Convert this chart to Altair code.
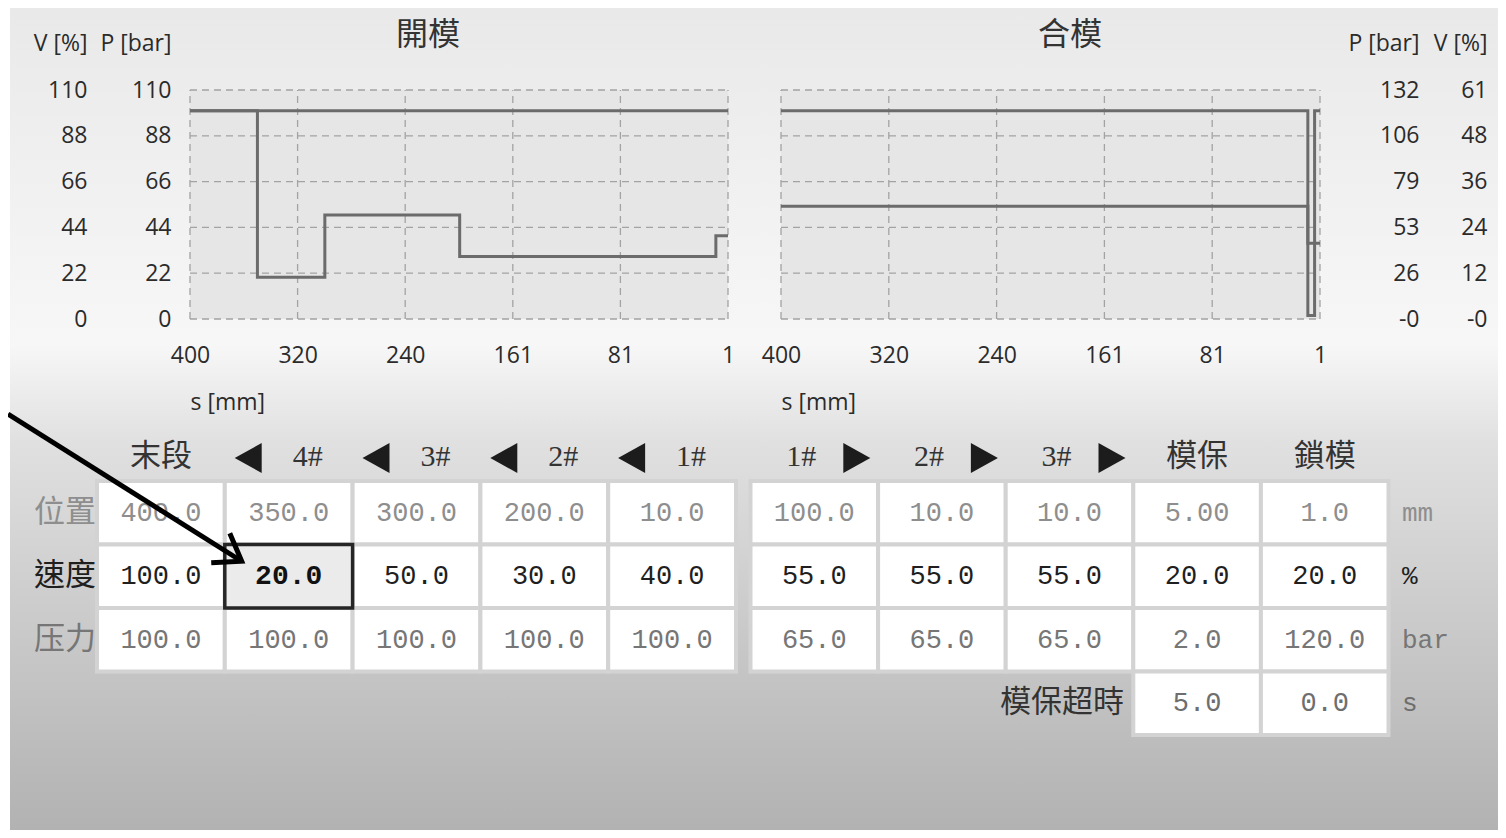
import altair as alt
import pandas as pd

W, H = 1490, 822

# ---------------- data ----------------
row_names = ["位置", "速度", "压力", "模保超時"]
units = ["mm", "%", "bar", "s"]

open_stages = ["末段", "4#", "3#", "2#", "1#"]
open_pos = [400.0, 350.0, 300.0, 200.0, 10.0]
open_speed = [100.0, 20.0, 50.0, 30.0, 40.0]
open_press = [100.0, 100.0, 100.0, 100.0, 100.0]

close_stages = ["1#", "2#", "3#", "模保", "鎖模"]
close_pos = [100.0, 10.0, 10.0, 5.00, 1.0]
close_speed = [55.0, 55.0, 55.0, 20.0, 20.0]
close_press = [65.0, 65.0, 65.0, 2.0, 120.0]
protect_stages = ["模保", "鎖模"]
protect_time = [5.0, 0.0]

stroke_start, stroke_end = 400.0, 1.0
s_ticks = [400.0, 320.2, 240.4, 160.6, 80.8, 1.0]
open_ticks = [0, 22, 44, 66, 88, 110]
close_p_ticks = [0, 26.4, 52.8, 79.2, 105.6, 132]
close_v_ticks = [0, 12.1, 24.2, 36.3, 48.4, 60.5]
selected_stage, selected_row = "4#", "速度"

# ---------------- styles / layout ----------------
AX_FONT = "Open Sans"
CJK = "Noto Sans CJK TC"
MONO = "Liberation Mono"
LINE_C = "#6b6b6b"
GRID_C = "#a3a3a3"
PLOT_Y = [311, 82]
OPEN_X = [182, 720]
CLOSE_X = [773, 1312]
ROW_COLORS = ["#8e8e8e", "#1f1f1f", "#767676", "#6e6e6e"]
TRI_LEFT = "M 1 -1 L -0.8 0 L 1 1 Z"
TRI_RIGHT = "M -1 -1 L 0.8 0 L -1 1 Z"
CHEVRON = "M -1 -0.7 L 0 0 L -1 0.7"


def y_axis(title, ticks, right_edge, zero_minus):
    expr = "format(datum.value, '.0f')"
    if zero_minus:
        expr = "datum.value == 0 ? '-0' : " + expr
    return alt.Axis(orient="left", offset=-(right_edge + 4), values=ticks,
                    labelExpr=expr, labelPadding=4, tickSize=0, ticks=False,
                    domain=False, grid=False, labelAlign="right",
                    labelBaseline="middle", title=title, titleAngle=0,
                    titleAlign="right", titleX=-4, titleY=35,
                    titleBaseline="middle", zindex=2)


def x_axis(xr):
    return alt.Axis(orient="bottom", offset=PLOT_Y[0] - H, values=s_ticks,
                    format=".0f", labelPadding=36, labelBaseline="middle",
                    tickSize=0, ticks=False, domain=False, grid=False,
                    labelFlush=False, labelOverlap=False,
                    title="s [mm]", titleX=xr[0], titleY=83, titleAlign="left",
                    titleBaseline="middle", titleAngle=0, zindex=2)


def panel(prof, xr, p_dom, v_dom, p_ticks, v_ticks, p_edge, v_edge, zero_minus):
    xs = alt.Scale(domain=[stroke_start, stroke_end], range=xr, nice=False, zero=False)

    def ys(dom):
        return alt.Scale(domain=dom, range=PLOT_Y, nice=False, zero=False)

    xa = x_axis(xr)
    one = pd.DataFrame({"k": [0]})
    bg = alt.Chart(one).mark_rect(fill="#e6e6e6").encode(
        x=alt.X(datum=stroke_start, scale=xs, axis=xa), x2=alt.datum(stroke_end),
        y=alt.Y(datum=p_dom[0], scale=ys(p_dom), axis=None), y2=alt.datum(p_dom[1]))
    vgrid = alt.Chart(pd.DataFrame({"s": s_ticks})).mark_rule(
        color=GRID_C, strokeDash=[7, 5], strokeWidth=1.3).encode(
        x=alt.X("s:Q", scale=xs, axis=xa),
        y=alt.Y(datum=p_dom[0], scale=ys(p_dom), axis=None), y2=alt.datum(p_dom[1]))
    hgrid = alt.Chart(pd.DataFrame({"t": p_ticks})).mark_rule(
        color=GRID_C, strokeDash=[7, 5], strokeWidth=1.3).encode(
        y=alt.Y("t:Q", scale=ys(p_dom), axis=None),
        x=alt.X(datum=stroke_start, scale=xs, axis=xa), x2=alt.datum(stroke_end))
    pline = alt.Chart(prof).mark_line(interpolate="step-after", color=LINE_C,
                                      strokeWidth=3).encode(
        x=alt.X("s:Q", scale=xs, axis=xa),
        y=alt.Y("p:Q", scale=ys(p_dom), axis=y_axis("P [bar]", p_ticks, p_edge, zero_minus)),
        order=alt.Order("idx:Q"))
    vline = alt.Chart(prof).mark_line(interpolate="step-after", color=LINE_C,
                                      strokeWidth=3).encode(
        x=alt.X("s:Q", scale=xs, axis=xa),
        y=alt.Y("v:Q", scale=ys(v_dom), axis=y_axis("V [%]", v_ticks, v_edge, zero_minus)),
        order=alt.Order("idx:Q"))
    return alt.layer(bg, vgrid, hgrid, pline, vline).resolve_scale(
        y="independent").resolve_axis(y="independent")


open_prof = pd.DataFrame({
    "idx": list(range(len(open_pos) + 1)),
    "s": open_pos + [stroke_end],
    "v": open_speed + [open_speed[-1]],
    "p": open_press + [open_press[-1]],
})
close_prof = pd.DataFrame({
    "idx": list(range(len(close_pos) + 1)),
    "s": [stroke_start] + close_pos,
    "v": close_speed + [close_speed[-1]],
    "p": close_press + [close_press[-1]],
})

open_panel = panel(open_prof, OPEN_X, [0, 110], [0, 110], open_ticks, open_ticks,
                   163, 79, False)
close_panel = panel(close_prof, CLOSE_X, [0, 132], [0, 60.5], close_p_ticks,
                    close_v_ticks, 1411, 1479, True)


# ---------------- tables ----------------
def fmt_pos(stage, v):
    return "{:.2f}".format(v) if stage == "模保" else "{:.1f}".format(v)


def table_df(stages, pos, speed, press):
    recs = []
    for i, st in enumerate(stages):
        recs.append({"col": st, "row": row_names[0], "txt": fmt_pos(st, pos[i])})
        recs.append({"col": st, "row": row_names[1], "txt": "{:.1f}".format(speed[i])})
        recs.append({"col": st, "row": row_names[2], "txt": "{:.1f}".format(press[i])})
    return recs


row_color = alt.Scale(domain=row_names, range=ROW_COLORS)


def table(stages, recs, xr, direction, name_dx, tri_dx):
    xb = alt.Scale(type="band", domain=stages, range=xr, paddingInner=0, paddingOuter=0)
    yb = alt.Scale(type="band", domain=row_names, range=[473, 727], paddingInner=0,
                   paddingOuter=0)
    df = pd.DataFrame(recs)
    X = alt.X("col:N", scale=xb, axis=None)
    Y = alt.Y("row:N", scale=yb, axis=None)
    sel = f"datum.col == '{selected_stage}' && datum.row == '{selected_row}'"
    cells = alt.Chart(df).mark_rect(fill="white", stroke="#d3d3d3", strokeWidth=4).encode(x=X, y=Y)
    hl = alt.Chart(df).transform_filter(sel).mark_rect(
        fill="#ebebeb", stroke="#262626", strokeWidth=3.5).encode(x=X, y=Y)
    txt = alt.Chart(df).transform_filter("!(" + sel + ")").mark_text(
        font=MONO, fontSize=27).encode(
        x=X, y=Y, text="txt:N", color=alt.Color("row:N", scale=row_color, legend=None))
    txt_sel = alt.Chart(df).transform_filter(sel).mark_text(
        font=MONO, fontSize=28, fontWeight="bold", color="#111").encode(x=X, y=Y, text="txt:N")
    hdr = pd.DataFrame({"col": stages,
                        "kind": ["num" if "#" in s else "cjk" for s in stages]})
    h_cjk = alt.Chart(hdr).transform_filter("datum.kind == 'cjk'").mark_text(
        font=CJK, fontSize=31, color="#333").encode(x=X, y=alt.value(449), text="col:N")
    h_num = alt.Chart(hdr).transform_filter("datum.kind == 'num'").mark_text(
        font="Liberation Serif", fontSize=30, color="#333", dx=name_dx).encode(
        x=X, y=alt.value(449), text="col:N")
    tri = alt.Chart(hdr).transform_filter("datum.kind == 'num'").mark_point(
        shape=TRI_LEFT if direction == "left" else TRI_RIGHT, filled=True,
        color="#1c1c1c", size=900, opacity=1, xOffset=tri_dx).encode(
        x=X, y=alt.value(450))
    return [cells, hl, txt, txt_sel, h_cjk, h_num, tri], X, Y


open_recs = table_df(open_stages, open_pos, open_speed, open_press)
open_layers, OX, OY = table(open_stages, open_recs, [89, 728], "left", 19, -42)

row_lbl = alt.Chart(pd.DataFrame({"row": row_names[:3]})).mark_text(
    font=CJK, fontSize=31, align="right").encode(
    x=alt.value(88), y=OY, text="row:N",
    color=alt.Color("row:N", scale=row_color, legend=None))

arrow_df = pd.DataFrame({"col": [selected_stage], "row": [selected_row]})
arrow_shaft = alt.Chart(arrow_df).mark_rule(
    color="black", strokeWidth=5, xOffset=-47, yOffset=-15).encode(
    x=OX, y=OY, x2=alt.value(0), y2=alt.value(406))
arrow_head = alt.Chart(arrow_df).mark_point(
    shape=CHEVRON, filled=False, color="black", strokeWidth=5, size=2500,
    angle=32, opacity=1, xOffset=-47, yOffset=-15).encode(x=OX, y=OY)

open_table = alt.layer(*open_layers, row_lbl, arrow_shaft, arrow_head)

close_recs = table_df(close_stages, close_pos, close_speed, close_press)
for st, t in zip(protect_stages, protect_time):
    close_recs.append({"col": st, "row": row_names[3], "txt": "{:.1f}".format(t)})
close_layers, CX, CY = table(close_stages, close_recs, [742.5, 1380.5], "right", -13, 44)

prot_lbl = alt.Chart(pd.DataFrame({"row": [row_names[3]]})).mark_text(
    font=CJK, fontSize=31, align="right", color="#333").encode(
    x=alt.value(1116), y=CY, text="row:N")
unit_lbl = alt.Chart(pd.DataFrame({"row": row_names, "u": units})).mark_text(
    font=MONO, fontSize=26, align="left").encode(
    x=alt.value(1394), y=CY, text="u:N",
    color=alt.Color("row:N", scale=row_color, legend=None))

close_table = alt.layer(*close_layers, prot_lbl, unit_lbl)

# ---------------- background & titles ----------------
grad = alt.LinearGradient(
    gradient="linear", x1=0, x2=0, y1=0, y2=1,
    stops=[alt.GradientStop(color="#e9e9e9", offset=0),
           alt.GradientStop(color="#f0f0f0", offset=0.2),
           alt.GradientStop(color="#f7f7f7", offset=0.41),
           alt.GradientStop(color="#e0e0e0", offset=0.53),
           alt.GradientStop(color="#cdcdcd", offset=0.72),
           alt.GradientStop(color="#b2b2b2", offset=1)])
page_bg = alt.Chart(alt.Data(values=[{"a": 1}])).mark_rect(color=grad).encode(
    x=alt.value(2), x2=alt.value(W), y=alt.value(0), y2=alt.value(H))

t_open = alt.Chart(alt.Data(values=[{"t": "開模"}])).mark_text(
    font=CJK, fontSize=32, color="#333", baseline="middle").encode(
    x=alt.value(420), y=alt.value(27), text="t:N")
t_close = alt.Chart(alt.Data(values=[{"t": "合模"}])).mark_text(
    font=CJK, fontSize=32, color="#333", baseline="middle").encode(
    x=alt.value(1062), y=alt.value(27), text="t:N")

chart = alt.layer(
    page_bg, t_open, t_close, open_panel, close_panel, open_table, close_table
).resolve_scale(
    x="independent", y="independent", color="independent"
).resolve_axis(
    x="independent", y="independent"
).properties(
    width=W, height=H, padding=0, autosize=alt.AutoSizeParams(type="none")
).configure(
    background="white"
).configure_view(
    stroke=None
).configure_axis(
    labelFont=AX_FONT, labelFontSize=23, labelColor="#2b2b2b",
    titleFont=AX_FONT, titleFontSize=23, titleFontWeight="normal", titleColor="#2b2b2b"
)

chart.save("out.html", embed_options={"renderer": "svg", "actions": False})
